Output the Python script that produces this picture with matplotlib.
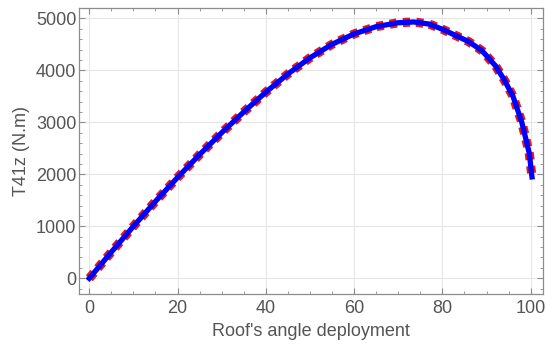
import numpy as np
import matplotlib.pyplot as plt
from matplotlib.ticker import MultipleLocator

plt.rcParams['font.family'] = ['Liberation Sans', 'DejaVu Sans']
plt.rcParams['lines.scale_dashes'] = False

# values
angle = [0, 5, 10, 15, 20, 25, 30, 35, 40, 45, 50, 55, 60, 65, 70, 73.5,
         77, 80, 83, 86, 89, 92, 94, 96, 98, 99, 99.7, 100.3]
torque = [0, 505, 1000, 1480, 1940, 2380, 2800, 3200, 3580, 3930, 4240,
          4500, 4700, 4840, 4915, 4930, 4890, 4790, 4670, 4550, 4375, 4090,
          3820, 3500, 3000, 2650, 2400, 1950]

x_label = "Roof's angle deployment"
y_label = "T41z (N.m)"

fig = plt.figure(figsize=(5.46, 3.49), dpi=100)
ax = fig.add_axes([0.1447, 0.1576, 0.9945 - 0.1447, 0.977 - 0.1576])

# red dashed under blue solid, same data
ax.plot(angle, torque, color='#e31a1c', lw=6.6, dashes=(5.2, 4.4),
        zorder=2, solid_capstyle='butt')
ax.plot(angle, torque, color='#0000ff', lw=3.8, zorder=3,
        solid_joinstyle='round')

ax.set_xlim(-2.33, 102.8)
ax.set_ylim(-302, 5198)

ax.xaxis.set_major_locator(MultipleLocator(20))
ax.xaxis.set_minor_locator(MultipleLocator(5))
ax.yaxis.set_major_locator(MultipleLocator(1000))
ax.yaxis.set_minor_locator(MultipleLocator(200))

ax.grid(True, which='major', color='#e6e6e6', lw=0.8, zorder=0)
ax.set_axisbelow(True)

for s in ax.spines.values():
    s.set_color('#8c8c8c')
    s.set_linewidth(0.9)

ax.tick_params(which='both', direction='in', top=True, right=True,
               color='#8c8c8c', labelcolor='#555555', labelsize=13)
ax.tick_params(which='major', length=4, width=0.8)
ax.tick_params(which='minor', length=2.2, width=0.6)
ax.tick_params(axis='y', pad=2)
ax.tick_params(axis='x', pad=4)

ax.set_xlabel(x_label, fontsize=13, color='#555555', labelpad=5)
ax.set_ylabel(y_label, fontsize=13, color='#555555', labelpad=4)

fig.savefig('out.png', dpi=100)
